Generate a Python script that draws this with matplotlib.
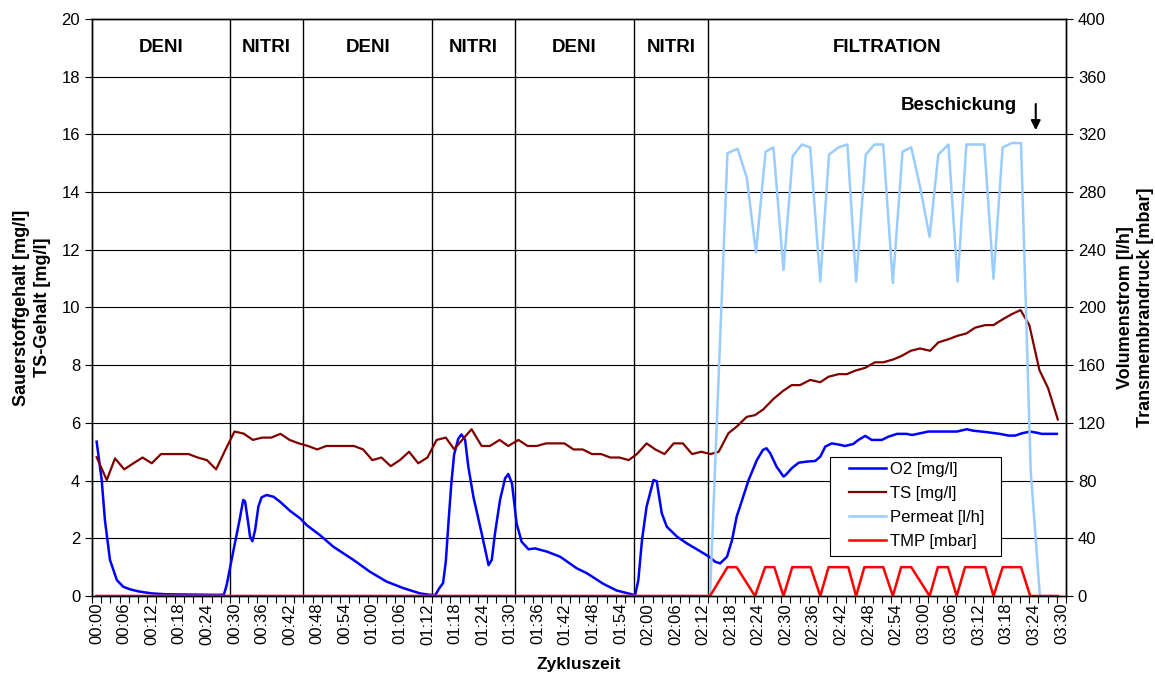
import numpy as np
import matplotlib.pyplot as plt
from matplotlib.patches import Rectangle
from matplotlib.ticker import FixedLocator, FuncFormatter, MultipleLocator

plt.rcParams['font.family'] = ['Liberation Sans', 'DejaVu Sans']

# --- Messwerte (Zeit in Minuten seit Zyklusbeginn) ---
o2_min = [0, 1.1, 1.8, 2.9, 4.4, 5.8, 7.3, 9.1, 12, 15.2, 20, 26.5, 27.7, 28.3, 29.8,
          31.1, 31.9, 32.3, 32.9, 33.4, 33.9, 34.5, 35.2, 35.9, 37, 38.5, 39.9, 42.1,
          44.3, 45.7, 48.6, 51.5, 55.9, 59.5, 63.1, 66.8, 70.4, 72.6, 73.7, 74.5,
          75.4, 76.0, 76.6, 77.2, 77.8, 78.7, 79.4, 80.2, 80.9, 82, 83.8, 85.3, 86,
          86.7, 87.8, 88.9, 89.6, 90.4, 91.4, 92.5, 94, 95.4, 98, 100.9, 104.5, 106.7,
          110.3, 113.2, 115.7, 117.2, 117.9, 118.7, 119.7, 121.2, 121.9, 123, 124.1,
          126.3, 128.4, 130.3, 132.1, 133.5, 134.6, 135.7, 137.2, 138.3, 139.3, 140.5,
          141.9, 143.7, 145, 145.8, 146.6, 148, 149.5, 150.0, 151.3, 152.8, 154.6,
          156.4, 157.5, 158.6, 160, 161.8, 162.9, 164.7, 165.8, 167.3, 168.7, 170.9,
          172.3, 174.2, 176.3, 177.5, 179.2, 181, 187.2, 189.4, 190.8, 193.7, 196.6,
          198.5, 199.9, 201.4, 203.2, 204.6, 205.7, 209]
o2_val = [5.35, 4.02, 2.63, 1.25, 0.55, 0.32, 0.23, 0.16, 0.09, 0.06, 0.05, 0.04, 0.05,
          0.38, 1.6, 2.63, 3.33, 3.28, 2.63, 2.05, 1.9, 2.29, 3.1, 3.42, 3.5, 3.44, 3.27,
          2.95, 2.69, 2.46, 2.11, 1.71, 1.25, 0.84, 0.5, 0.27, 0.09, 0.04, 0.03, 0.25,
          0.45, 1.2, 2.6, 3.9, 4.9, 5.45, 5.6, 5.41, 4.48, 3.44, 2.17, 1.07, 1.25, 2.17,
          3.33, 4.08, 4.23, 3.9, 2.52, 1.88, 1.62, 1.65, 1.54, 1.36, 0.96, 0.79, 0.42,
          0.19, 0.09, 0.03, 0.55, 1.94, 3.1, 4.02, 3.98, 2.87, 2.4, 2.06, 1.83, 1.65,
          1.48, 1.34, 1.19, 1.13, 1.36, 1.94, 2.75, 3.33, 4.02, 4.71, 5.06, 5.12, 4.95,
          4.48, 4.14, 4.2, 4.43, 4.62, 4.66, 4.68, 4.83, 5.18, 5.29, 5.24, 5.2, 5.27,
          5.41, 5.55, 5.41, 5.41, 5.52, 5.62, 5.62, 5.58, 5.64, 5.7, 5.7, 5.78, 5.73,
          5.68, 5.62, 5.56, 5.56, 5.64, 5.7, 5.66, 5.62, 5.62]

ts_min = [0, 2.2, 4, 6, 8, 10, 12, 14, 16, 18, 20, 22, 24, 26, 28, 30, 32, 34, 36, 38,
          40, 42, 44, 46, 48, 50, 52, 54, 56, 58, 60, 62, 64, 66, 68, 70, 72, 74, 76,
          77.8, 81.6, 83.8, 85.6, 87.7, 89.6, 91.8, 93.8, 95.8, 97.8, 99.8, 101.8,
          103.8, 105.8, 107.8, 109.8, 111.8, 113.8, 115.8, 117.6, 119.7, 121.6, 123.6,
          125.6, 127.6, 129.6, 131.6, 133.6, 135.4, 137.5, 139.3, 141.5, 143.3, 145.1,
          147.3, 149.5, 151.3, 153.1, 155.3, 157.5, 159.3, 161.5, 163.3, 165.1, 167.3,
          169.4, 171.2, 173.4, 175.2, 177.2, 179.2, 181.4, 183.2, 185.4, 187.4, 189.3,
          191.2, 193.4, 195.2, 197.2, 199.2, 201.1, 203, 205.2, 207.1, 209.2]
ts_val = [4.81, 4.02, 4.77, 4.39, 4.6, 4.8, 4.6, 4.92, 4.92, 4.92, 4.92, 4.8, 4.71, 4.39,
          5.06, 5.7, 5.63, 5.41, 5.49, 5.49, 5.62, 5.41, 5.29, 5.2, 5.08, 5.2, 5.2, 5.2,
          5.2, 5.08, 4.71, 4.8, 4.5, 4.71, 5.0, 4.6, 4.8, 5.41, 5.49, 5.09, 5.78, 5.2,
          5.2, 5.41, 5.2, 5.41, 5.2, 5.2, 5.29, 5.29, 5.29, 5.08, 5.08, 4.92, 4.92, 4.8,
          4.8, 4.71, 4.92, 5.29, 5.08, 4.92, 5.29, 5.29, 4.92, 5.0, 4.92, 5.0, 5.64,
          5.87, 6.21, 6.27, 6.47, 6.83, 7.12, 7.31, 7.31, 7.49, 7.41, 7.6, 7.69, 7.69,
          7.81, 7.91, 8.1, 8.1, 8.2, 8.32, 8.5, 8.58, 8.5, 8.79, 8.9, 9.02, 9.1, 9.3,
          9.39, 9.39, 9.59, 9.77, 9.91, 9.39, 7.83, 7.2, 6.12]

perm_min = [0, 133.5, 137.3, 139.5, 141.5, 143.5, 145.6, 147.3, 149.5, 151.5, 153.5,
            155.3, 157.5, 159.4, 161.5, 163.4, 165.3, 167.4, 169.3, 171.2, 173.3, 175.4,
            177.3, 179.2, 181.3, 183.2, 185.4, 187.4, 189.3, 191.2, 193.2, 195.2, 197.2,
            199.2, 201.2, 203.3, 205.3, 209.2]
perm_val = [0, 0, 307, 310, 290, 238, 308, 311, 226, 305, 313, 311, 218, 306, 311, 313,
            218, 306, 313, 313, 217, 308, 311, 284, 249, 306, 313, 218, 313, 313, 313,
            220, 311, 314, 314, 87, 0, 0]

tmp_min = [0, 133.5, 137.3, 139.3, 143.3, 145.5, 147.5, 149.5, 151.4, 155.4, 157.5,
           159.3, 163.6, 165.3, 167.1, 171.2, 173.3, 175.1, 177.3, 181.3, 183.1, 185.3,
           187.2, 189, 193.4, 195.2, 197.2, 201.2, 203.2, 209.2]
tmp_val = [0, 0, 20, 20, 0, 20, 20, 0, 20, 20, 0, 20, 20, 0, 20, 20, 0, 20, 20, 0, 20,
           20, 0, 20, 20, 0, 20, 20, 0, 0]

# Phasen: Grenzen in Minuten und Beschriftung
phase_edges = [-1, 29, 45, 73, 91, 117, 133, 211]
phase_names = ['DENI', 'NITRI', 'DENI', 'NITRI', 'DENI', 'NITRI', 'FILTRATION']

fig = plt.figure(figsize=(11.55, 6.73), dpi=100)
ax = fig.add_axes([0.0797, 0.1144, 0.8433, 0.8574])
ax2 = ax.twinx()

# Gitter und Phasentrennlinien
for y in range(2, 20, 2):
    ax.axhline(y, color='black', lw=0.8, zorder=1)
for x in phase_edges[1:-1]:
    ax.axvline(x, color='black', lw=1.0, zorder=1)
for i, name in enumerate(phase_names):
    xc = (phase_edges[i] + phase_edges[i + 1]) / 2
    ax.text(xc, 19.0, name, ha='center', va='center', fontsize=13.5, fontweight='bold')

l1, = ax.plot(o2_min, o2_val, color='#0000FF', lw=1.8, label='O2 [mg/l]', zorder=3)
l2, = ax.plot(ts_min, ts_val, color='#800000', lw=1.6, label='TS [mg/l]', zorder=3)
l3, = ax2.plot(perm_min, perm_val, color='#99CCFF', lw=1.8, label='Permeat [l/h]')
l4, = ax2.plot(tmp_min, tmp_val, color='#FF0000', lw=1.8, label='TMP [mbar]')

ax.set_xlim(-1, 211)
ax.set_ylim(0, 20)
ax2.set_ylim(0, 400)
ax.yaxis.set_major_locator(MultipleLocator(2))
ax2.yaxis.set_major_locator(MultipleLocator(40))

ax.xaxis.set_major_locator(FixedLocator(np.arange(0, 211, 6)))
ax.xaxis.set_minor_locator(FixedLocator(np.arange(-1, 212, 2)))
ax.xaxis.set_major_formatter(FuncFormatter(lambda v, p: '%02d:%02d' % divmod(int(round(v)), 60)))
ax.tick_params(axis='x', which='major', length=0, labelsize=12, labelrotation=90, pad=5)
ax.tick_params(axis='x', which='minor', length=5, width=0.8)
ax.tick_params(axis='y', length=5, width=0.8, labelsize=12)
ax2.tick_params(axis='y', length=5, width=0.8, labelsize=12)

for a in (ax, ax2):
    for s in a.spines.values():
        s.set_color('black')
        s.set_linewidth(1.0)

ax.set_xlabel('Zykluszeit', fontsize=12.5, fontweight='bold', labelpad=9)
ax.set_ylabel('Sauerstoffgehalt [mg/l]\nTS-Gehalt [mg/l]', fontsize=13,
              fontweight='bold', labelpad=8, linespacing=1.25)
ax2.set_ylabel('Volumenstrom [l/h]\nTransmembrandruck [mbar]', fontsize=13,
               fontweight='bold', labelpad=8, linespacing=1.25, rotation=90)

# Beschickung mit Pfeil
ax.text(200.3, 17.0, 'Beschickung', ha='right', va='center', fontsize=13.5, fontweight='bold')
ax.annotate('', xy=(204.4, 16.05), xytext=(204.4, 17.15),
            arrowprops=dict(arrowstyle='-|>', color='black', lw=1.5, mutation_scale=14))

# Legendenkasten
ax2.add_patch(Rectangle((0.758, 0.0693), 0.175, 0.1717, transform=ax2.transAxes,
                        facecolor='white', edgecolor='black', lw=0.8, zorder=4.5))
leg = ax2.legend(handles=[l1, l2, l3, l4], loc='upper left', bbox_to_anchor=(0.777, 0.233),
                 fontsize=12, frameon=False, handlelength=2.2, labelspacing=0.55,
                 borderpad=0, handletextpad=0.25, borderaxespad=0)

fig.savefig('out.png', dpi=100)
